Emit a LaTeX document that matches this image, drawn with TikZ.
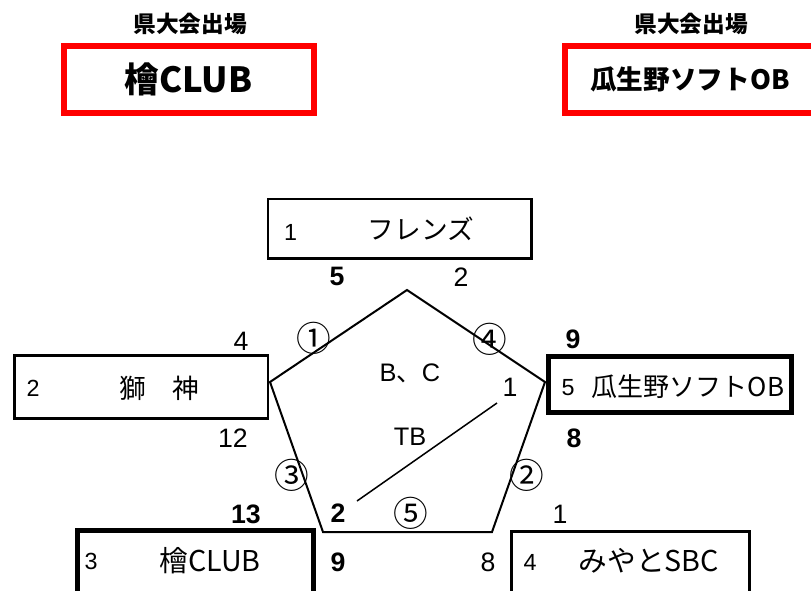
\documentclass[tikz,border=0pt]{standalone}
\usepackage{fontspec}
\setmainfont{Liberation Sans}
\newfontfamily\jp{Noto Sans CJK JP}
\newdimen\px \px=0.75pt
\tikzset{
  redbox/.style={draw=red, line width=6\px, minimum width=250\px, minimum height=67\px, inner sep=0pt},
  teambox/.style={draw, line width=2.5\px, inner sep=0pt},
  strongbox/.style={teambox, line width=5\px},
  head/.style={font=\jp\bfseries\fontsize{17}{17}\selectfont, inner sep=0pt},
  tname/.style={font=\jp\fontsize{20}{20}\selectfont, inner sep=0pt},
  tnum/.style={font=\fontsize{17.5}{17.5}\selectfont, inner sep=0pt},
  score/.style={font=\fontsize{20}{20}\selectfont, inner sep=0pt},
  win/.style={score, font=\bfseries\fontsize{20}{20}\selectfont},
  game/.style={font=\jp\fontsize{26}{26}\selectfont, inner sep=0pt},
}

\begin{document}
\begin{tikzpicture}[x=0.75pt, y=-0.75pt]
  \useasboundingbox (0,0) rectangle (811,590);
  \clip (0,0) rectangle (811,590);

  % qualified teams
  \node[head] (headL) at (190,24) {県大会出場};
  \node[head] (headR) at (691,24) {県大会出場};
  \node[redbox, font=\jp\bfseries\fontsize{26}{26}\selectfont] (qualL) at (188.5,79.5) {檜CLUB};
  \node[redbox, font=\jp\bfseries\fontsize{20}{20}\selectfont] (qualR) at (690,79.5) {瓜生野ソフトOB};

  % team boxes
  \node[teambox, minimum width=263.5\px, minimum height=59.5\px] (friends) at (399.75,228.75) {};
  \node[teambox, minimum width=253.5\px, minimum height=63\px] (shishin) at (141.25,387) {};
  \node[strongbox, minimum width=243\px, minimum height=56\px] (urino) at (670,384.5) {};
  \node[strongbox, minimum width=236.5\px, minimum height=89.5\px] (hinoki) at (195.25,575.25) {};
  \node[teambox, line width=3\px, minimum width=237.5\px, minimum height=88.5\px] (miyato) at (630.25,575.75) {};

  \node[tnum] (n1) at (290.5,232) {1};
  \node[tname] (t1) at (421,229) {フレンズ};
  \node[tnum] (n2) at (33,388) {2};
  \node[tname] (t2) at (159,388) {獅　神};
  \node[tnum] (n5) at (568,388) {5};
  \node[tname, font=\jp\fontsize{19.5}{19.5}\selectfont] (t5) at (688,387) {瓜生野ソフトOB};
  \node[tnum] (n3) at (91,561) {3};
  \node[tname, font=\jp\fontsize{21.5}{21.5}\selectfont] (t3) at (210,561) {檜CLUB};
  \node[tnum] (n4) at (530,562) {4};
  \node[tname, font=\jp\fontsize{21.5}{21.5}\selectfont] (t4) at (649,561) {みやとSBC};

  % pentagon
  \coordinate (pT) at (407,290);
  \coordinate (pL) at (270,382);
  \coordinate (pR) at (545,382);
  \coordinate (pBL) at (323,532);
  \coordinate (pBR) at (492,532);
  \draw[line width=2\px] (pT) -- (pR) -- (pBR) -- (pBL) -- (pL) -- cycle;

  \coordinate (dA) at (497,403);
  \coordinate (dB) at (357,501);
  \draw[line width=1.5\px] (dA) -- (dB);

  % games
  \node[game] (g1) at (314,338) {①};
  \node[game] (g4) at (490,339) {④};
  \node[game] (g3) at (292,475) {③};
  \node[game] (g2) at (527,475) {②};
  \node[game] (g5) at (411,513) {⑤};

  \node[score, font=\fontsize{19}{19}\selectfont] (bc) at (410,373) {B{\jp 、}C};
  \node[score, font=\fontsize{19}{19}\selectfont] (tb) at (410,437) {TB};

  % scores
  \node[win] (s1a) at (337,276) {5};
  \node[score] (s1b) at (461,277) {2};
  \node[score] (s2a) at (241,341) {4};
  \node[win] (s5a) at (573,339) {9};
  \node[score] (s5b) at (510,387) {1};
  \node[score] (s2b) at (233,438) {12};
  \node[win] (s5c) at (574,438) {8};
  \node[win] (s3a) at (246,514) {13};
  \node[win] (s3b) at (338,513) {2};
  \node[score] (s4a) at (560,514) {1};
  \node[win] (s3c) at (338,562) {9};
  \node[score] (s4b) at (488,562) {8};
\end{tikzpicture}
\end{document}
